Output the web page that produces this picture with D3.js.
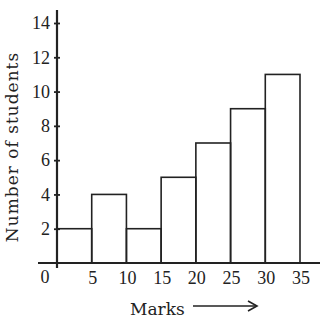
<!DOCTYPE html>
<html>
<head>
<meta charset="utf-8">
<script src="https://cdn.jsdelivr.net/npm/d3@7"></script>
<style>
  body { margin: 0; background: #fff; }
  text { font-family: "DejaVu Serif", serif; fill: #222; }
  .num { font-family: "Liberation Serif", serif; font-size: 18px; }
</style>
</head>
<body>
<svg width="329" height="321"></svg>
<script>
// class intervals (marks) and counts
let classStarts = [0, 5, 10, 15, 20, 25, 30];
let classWidth = 5;
let students = [2, 4, 2, 5, 7, 9, 11];
let yTicks = [2, 4, 6, 8, 10, 12, 14];
let xTicks = [5, 10, 15, 20, 25, 30, 35];

let svg = d3.select("svg");
let ink = "#222";

let x = d3.scaleLinear().domain([0, 35]).range([57, 300]);
let y = d3.scaleLinear().domain([0, 14]).range([263, 23]);

// bars
svg.append("g")
  .selectAll("rect")
  .data(students)
  .enter()
  .append("rect")
  .attr("x", (d, i) => x(classStarts[i]))
  .attr("y", d => y(d))
  .attr("width", (d, i) => x(classStarts[i] + classWidth) - x(classStarts[i]))
  .attr("height", d => y(0) - y(d))
  .attr("fill", "none")
  .attr("stroke", ink)
  .attr("stroke-width", 1.6);

// axes lines
svg.append("line")
  .attr("x1", 38).attr("x2", 320)
  .attr("y1", y(0)).attr("y2", y(0))
  .attr("stroke", ink).attr("stroke-width", 2.2);
svg.append("line")
  .attr("x1", x(0)).attr("x2", x(0))
  .attr("y1", 10).attr("y2", 268)
  .attr("stroke", ink).attr("stroke-width", 2.2);

// y axis ticks + labels
let yAxis = svg.append("g")
  .attr("transform", `translate(${x(0)},0)`)
  .call(d3.axisLeft(y).tickValues(yTicks).tickSize(3).tickPadding(4));
yAxis.select(".domain").remove();
yAxis.selectAll(".tick line").attr("x1", 3).attr("x2", -3).attr("stroke", ink).attr("stroke-width", 1.8);
yAxis.selectAll(".tick text")
  .attr("class", "num")
  .attr("fill", ink);

// x labels
svg.append("g")
  .selectAll("text")
  .data(xTicks)
  .enter()
  .append("text")
  .attr("class", "num")
  .attr("x", d => x(d) + 1)
  .attr("y", 284)
  .attr("text-anchor", "middle")
  .text(d => d);

svg.append("text")
  .attr("class", "num")
  .attr("x", 45).attr("y", 283)
  .attr("text-anchor", "middle")
  .text("0");

// axis titles
svg.append("text")
  .attr("transform", "translate(18,147) rotate(-90)")
  .attr("text-anchor", "middle")
  .style("font-size", "17px")
  .style("letter-spacing", "1px")
  .text("Number of students");

svg.append("text")
  .attr("x", 130).attr("y", 315)
  .style("font-size", "17px")
  .text("Marks");

// arrow
svg.append("line")
  .attr("x1", 193).attr("x2", 256)
  .attr("y1", 306).attr("y2", 306)
  .attr("stroke", ink).attr("stroke-width", 1.5);
svg.append("path")
  .attr("d", "M248,301 L257,306 L248,311")
  .attr("fill", "none")
  .attr("stroke", ink).attr("stroke-width", 1.6);
</script>
</body>
</html>
